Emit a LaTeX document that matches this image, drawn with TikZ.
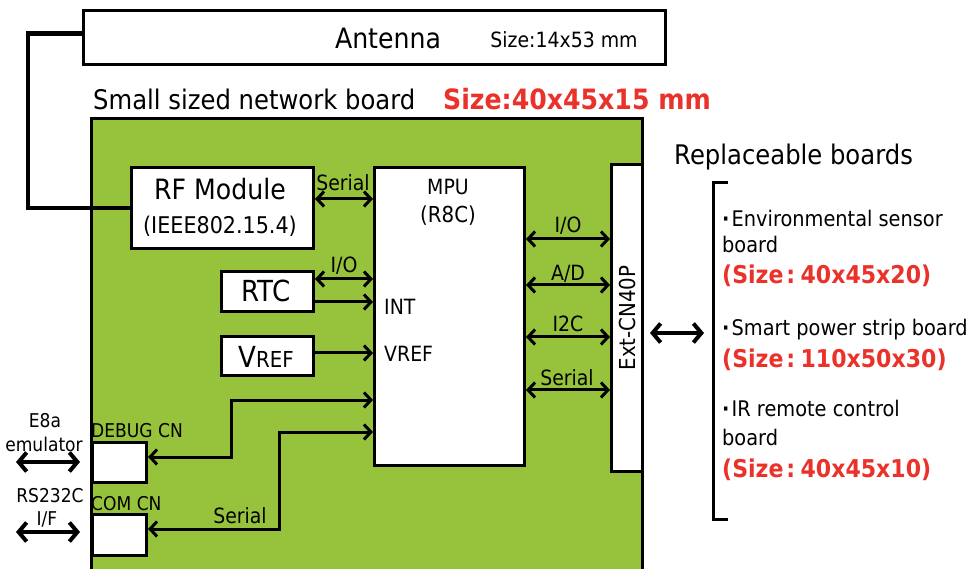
\documentclass[tikz,border=0pt]{standalone}
\usepackage{fontspec}
\setmainfont[FakeStretch=0.9]{DejaVu Sans}
\usetikzlibrary{arrows.meta}
\definecolor{boardgreen}{RGB}{151,194,60}
\definecolor{sizered}{RGB}{234,50,42}
\tikzset{
  fs/.style={font=\fontsize{#1}{#1}\selectfont},
  box/.style={draw, line width=3pt, fill=white, inner sep=0pt},
  both/.style={line width=3pt, {Straight Barb[length=7pt,width=15pt]}-{Straight Barb[length=7pt,width=15pt]}},
  onlyto/.style={line width=3pt, -{Straight Barb[length=7pt,width=15pt]}},
  bigboth/.style={line width=4pt, {Straight Barb[length=8pt,width=19pt]}-{Straight Barb[length=8pt,width=19pt]}},
  lbl/.style={inner sep=0pt, anchor=base},
  lbll/.style={inner sep=0pt, anchor=base west},
  redb/.style={text=sizered, font=\fontsize{#1}{#1}\selectfont\bfseries},
}
\newcommand{\szsep}{\hspace{0.12em}:\hspace{0.22em}}
\begin{document}
\begin{tikzpicture}[x=1pt,y=-1pt]
\useasboundingbox (0,0) rectangle (975,569);
\clip (0,0) rectangle (975,569);
% board
\node[draw, line width=3pt, fill=boardgreen, minimum width=551pt, minimum height=470pt, inner sep=0pt, anchor=north west] (board) at (90,117) {};
% antenna
\node[box, minimum width=582pt, minimum height=54pt, anchor=north west] (antenna) at (82,9) {};
\node[lbl, fs=28] (antt) at (388,49) {Antenna};
\node[lbl, fs=21] (antsz) at (564,48) {Size:14x53 mm};
% titles
\node[lbll, fs=27] (title) at (93,110) {Small sized network board};
\node[lbll, redb=28] (titlesz) at (443,110) {Size:40x45x15 mm};
% boxes
\node[box, minimum width=182pt, minimum height=81pt, anchor=north west] (rf) at (130,166) {};
\draw[line width=4.5pt] ([yshift=4pt]antenna.west) -- ++(-54,0) |- (rf.west);
\node[box, minimum width=182pt, minimum height=81pt, anchor=north west] (rf2) at (130,166) {};
\node[lbl, fs=28] (rft) at (220,200) {RF Module};
\node[lbl, fs=23] (rft2) at (220,234) {(IEEE802.15.4)};
\node[box, minimum width=150pt, minimum height=298pt, anchor=north west] (mpu) at (373,166) {};
\node[lbl, fs=21] (mput) at (448,195) {MPU};
\node[lbl, fs=22] (mput2) at (448,223) {(R8C)};
\node[box, minimum width=92pt, minimum height=40pt, anchor=north west] (rtc) at (220,270) {};
\node[lbl, fs=29] (rtct) at (266,302) {RTC};
\node[box, minimum width=92pt, minimum height=39pt, anchor=north west] (vref) at (220,335) {};
\node[lbl] (vreft) at (266,367) {\fontsize{29}{29}\selectfont V\fontsize{22}{22}\selectfont REF};
\node[box, minimum width=31pt, minimum height=307pt, anchor=north west] (ext) at (610,163) {};
\node[inner sep=0pt, rotate=90, fs=22] (extt) at (627,318) {Ext-CN40P};
\node[box, minimum width=54pt, minimum height=40pt, anchor=north west] (debug) at (91,441) {};
\node[box, minimum width=54pt, minimum height=41pt, anchor=north west] (com) at (91,513) {};
\node[lbll, fs=19] (debugt) at (91,437) {DEBUG CN};
\node[lbll, fs=19] (comt) at (91,510) {COM CN};
% connectors left of MPU
\draw[both] (rf.east |- 0,199) -- (mpu.west |- 0,199);
\node[lbl, fs=21] (ser1) at (343,191) {Serial};
\draw[both] (rtc.east |- 0,279) -- (mpu.west |- 0,279);
\node[lbl, fs=21] (io1) at (344,273) {I/O};
\draw[onlyto] (rtc.east |- 0,302) -- (mpu.west |- 0,302);
\node[lbll, fs=21] (intt) at (384,315) {INT};
\draw[onlyto] (vref.east |- 0,353) -- (mpu.west |- 0,353);
\node[lbll, fs=21] (vrefm) at (384,362) {VREF};
\coordinate (d1) at (231,457);
\coordinate (d2) at (231,400);
\draw[both] (debug.east |- d1) -- (d1) -- (d2) -- (mpu.west |- d2);
\coordinate (c1) at (279,529);
\coordinate (c2) at (279,432);
\draw[both] (com.east |- c1) -- (c1) -- (c2) -- (mpu.west |- c2);
\node[lbl, fs=21] (ser3) at (240,523) {Serial};
% connectors right of MPU
\draw[both] (mpu.east |- 0,239) -- (ext.west |- 0,239);
\node[lbl, fs=21] (io2) at (568,233) {I/O};
\draw[both] (mpu.east |- 0,285) -- (ext.west |- 0,285);
\node[lbl, fs=21] (ad) at (568,281) {A/D};
\draw[both] (mpu.east |- 0,337) -- (ext.west |- 0,337);
\node[lbl, fs=21] (i2c) at (568,332) {I2C};
\draw[both] (mpu.east |- 0,390) -- (ext.west |- 0,390);
\node[lbl, fs=21] (ser2) at (567,385) {Serial};
% external
\coordinate (brk) at (704,333);
\draw[bigboth] ([xshift=6pt]ext.east |- brk) -- (brk);
\coordinate (e1) at (16,462);
\coordinate (e2) at (80,462);
\draw[bigboth] (e1) -- (e2);
\coordinate (r1) at (16,532);
\coordinate (r2) at (80,532);
\draw[bigboth] (r1) -- (r2);
\node[lbl, fs=19] (e8a) at (45,428) {E8a};
\node[lbl, fs=19] (emu) at (44,451) {emulator};
\node[lbl, fs=19] (rs) at (50,502) {RS232C};
\node[lbl, fs=19] (if) at (47,525) {I/F};
% replaceable boards
\node[lbll, fs=27] (rep) at (674,165) {Replaceable boards};
\coordinate (bt) at (728,183);
\coordinate (bb) at (728,519);
\draw[line width=3pt] (bt) -- (713,183) -- (713,519) -- (bb);
\node[lbll, fs=21.5] (l1) at (722,227) {{\bfseries·}\hspace{0.1em}Environmental sensor};
\node[lbll, fs=21.5] (l1b) at (722,253) {board};
\node[lbll, redb=24.5] (l1s) at (722,284) {(Size\szsep 40x45x20)};
\node[lbll, fs=21.5] (l2) at (722,336) {{\bfseries·}\hspace{0.1em}Smart power strip board};
\node[lbll, redb=24.5] (l2s) at (722,367) {(Size\szsep 110x50x30)};
\node[lbll, fs=21.5] (l3) at (722,417) {{\bfseries·}\hspace{0.1em}IR remote control};
\node[lbll, fs=21.5] (l3b) at (722,445) {board};
\node[lbll, redb=24.5] (l3s) at (722,477) {(Size\szsep 40x45x10)};
\end{tikzpicture}
\end{document}
